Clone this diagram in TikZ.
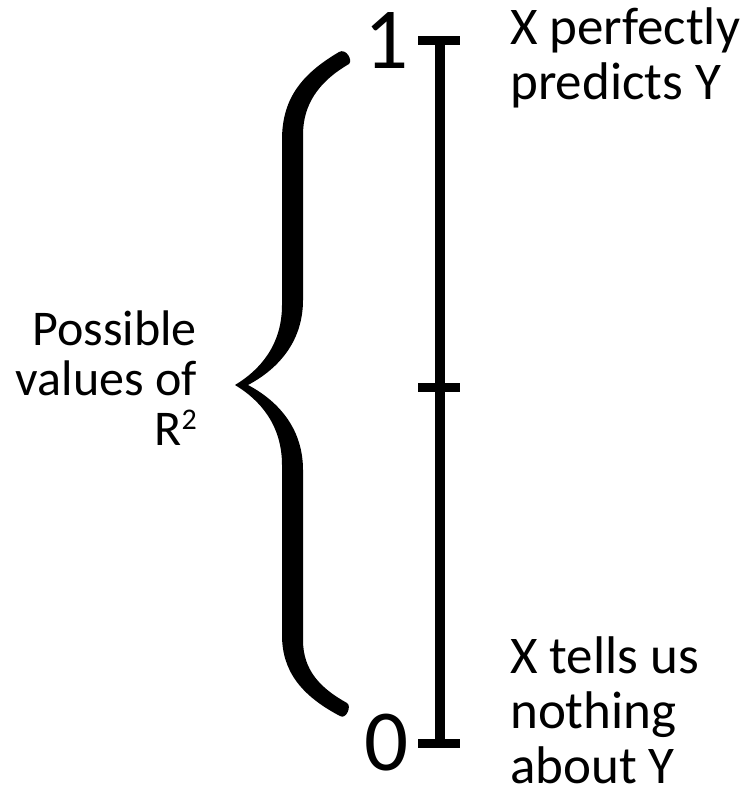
\documentclass[tikz,border=0pt]{standalone}
\usepackage{fontspec}
\setmainfont{Carlito}
\usetikzlibrary{positioning}
\tikzset{
  lbl/.style={inner sep=0pt, align=left, anchor=north west, font=\fontsize{53}{55}\selectfont},
  lblleft/.style={inner sep=0pt, align=right, anchor=north east, font=\fontsize{50}{50}\selectfont},
  digit/.style={inner sep=0pt, font=\fontsize{87}{87}\selectfont},
  scaleline/.style={line width=10pt},
  tickmark/.style={line width=9pt},
}
\newcommand{\sqsup}{\raisebox{0.33em}{\fontsize{30}{30}\selectfont 2}}
\begin{document}
\begin{tikzpicture}[x=1pt, y=-1pt]
\useasboundingbox (0,0) rectangle (750,791);
\coordinate (top) at (440,41);
\coordinate (mid) at (440,387);
\coordinate (bot) at (440,743);
\draw[scaleline] (top) -- (bot);
\foreach \c in {top,mid,bot}\draw[tickmark] ([xshift=-22pt]\c) -- ([xshift=20pt]\c);
\node[digit] (one) at (387,41) {1};
\node[digit] (zero) at (387,743) {0};
\node[lbl] (perfect) at (510,8) {X perfectly\\predicts Y};
\node[lbl] (nothing) at (510,636) {X tells us\\nothing\\about Y};
\node[lblleft] (possible) at (197,311) {Possible\\values of\\R\sqsup};
% the brace
\fill (349,64) .. controls (318,82) and (303,105) .. (303,135)
  -- (303,300) .. controls (303,340) and (280,368) .. (248,385)
  .. controls (280,402) and (303,430) .. (303,470)
  -- (303,640) .. controls (303,670) and (320,688) .. (347,703)
  .. controls (352,706) and (346,720) .. (340,716)
  .. controls (300,695) and (282,670) .. (282,635)
  -- (282,465) .. controls (282,425) and (260,400) .. (235,385)
  .. controls (260,370) and (282,345) .. (282,305)
  -- (282,140) .. controls (282,100) and (300,75) .. (339,52)
  .. controls (346,48) and (353,60) .. (349,64) -- cycle;
\end{tikzpicture}
\end{document}
